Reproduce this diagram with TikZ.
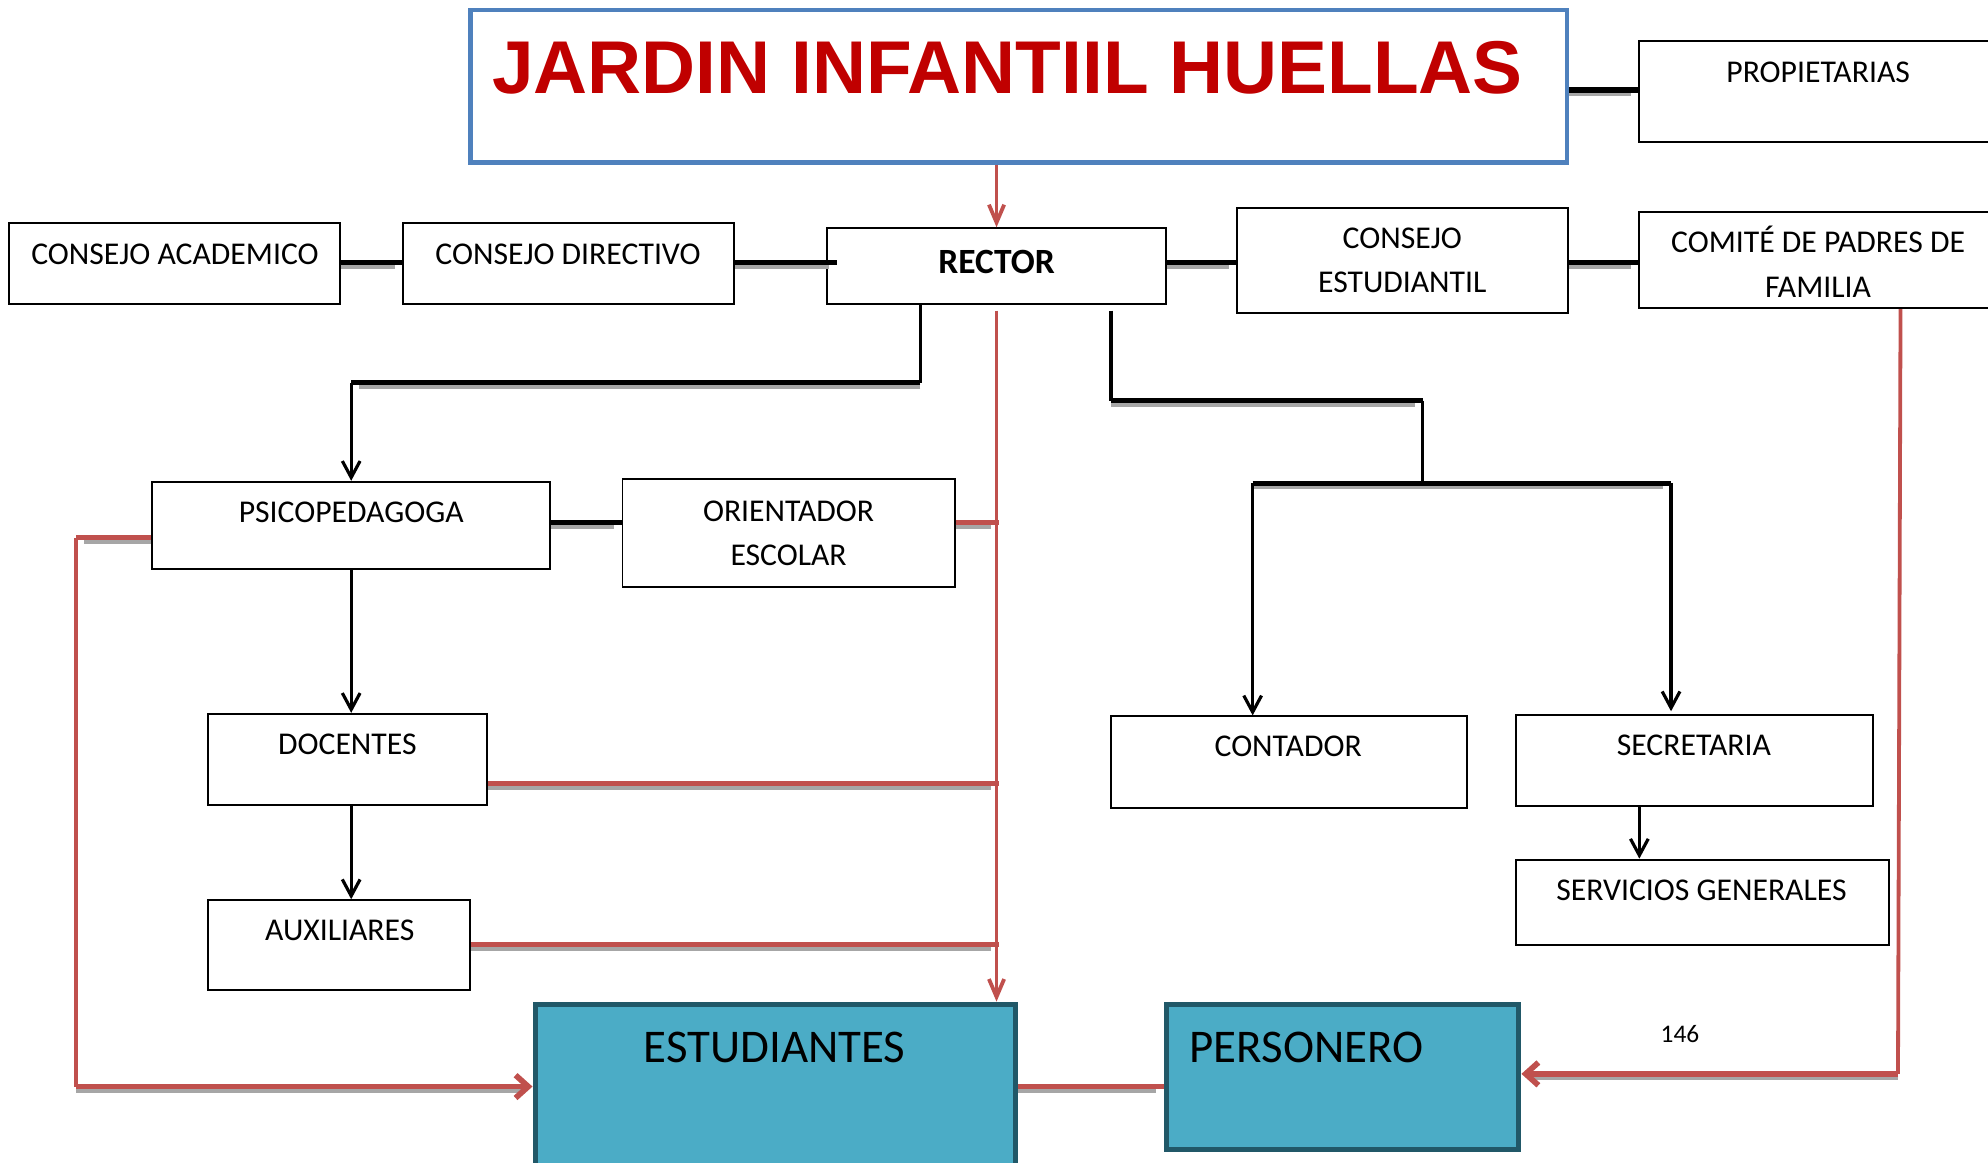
\documentclass[tikz,border=0pt]{standalone}
\usepackage{fontspec}
\setmainfont{Carlito}
\newfontfamily\titlefont{Liberation Sans}
\usetikzlibrary{arrows.meta,fit}
\definecolor{tred}{HTML}{C00000}
\definecolor{tblue}{HTML}{4F81BD}
\definecolor{lred}{HTML}{C0504D}
\definecolor{cfill}{HTML}{4BACC6}
\definecolor{cdark}{HTML}{215868}
\definecolor{shadowgray}{HTML}{A6A6A6}
\begin{document}
\begin{tikzpicture}[x=1pt,y=-1pt,
  box/.style={draw=black, line width=1.5pt, fill=white, inner sep=0pt},
  cbox/.style={draw=cdark, line width=4pt, fill=cfill, inner sep=0pt},
  lbl/.style={anchor=base, inner sep=0pt, font=\fontsize{25}{30}\selectfont},
  blbl/.style={anchor=base, inner sep=0pt, font=\fontsize{28}{32}\selectfont\bfseries},
  clbl/.style={inner sep=0pt, font=\fontsize{37}{42}\selectfont},
  shad/.style={preaction={draw=shadowgray, line width=4pt, arrows=-, shorten >=6pt, transform canvas={yshift=-3pt}}},
  blackc/.style={draw=black, line width=4pt, shad},
  redc/.style={draw=lred, line width=4.5pt, shad},
  redv/.style={draw=lred, line width=3pt},
  arrowl/.style={draw=black, line width=2.5pt, -{Straight Barb[length=13pt,width=14pt]}},
  redarrow/.style={draw=lred, line width=3pt, -{Straight Barb[length=14pt,width=12pt]}},
  redarrowb/.style={draw=lred, line width=4.5pt, shad, -{Straight Barb[length=10pt,width=18pt]}}
]
\useasboundingbox (0,0) rectangle (1568,917);
\clip (0,0) rectangle (1568,917);

% title
\node[draw=tblue, line width=3.5pt, fill=white, inner sep=0pt, fit={(371,8)(1236,128)}] (title) {};
\node[anchor=base west, inner sep=0pt, text=tred, font=\titlefont\fontsize{59}{64}\selectfont\bfseries] (titletext) at (388,74) {JARDIN INFANTIIL HUELLAS};

% top row boxes
\node[box, fit={(1293,32)(1600,112)}] (prop) {};
\node[lbl] (propt) at (1434,65) {PROPIETARIAS};
\node[box, fit={(7,176)(268,240)}] (acad) {};
\node[lbl] (acadt) at (138,209) {CONSEJO ACADEMICO};
\node[box, fit={(318,176)(579,240)}] (dir) {};
\node[lbl] (dirt) at (448,209) {CONSEJO DIRECTIVO};
\node[box, fit={(652,180)(920,240)}] (rector) {};
\node[blbl] (rectort) at (786,216) {RECTOR};
\node[box, fit={(976,164)(1237,247)}] (est) {};
\node[lbl] (estt1) at (1106,196) {CONSEJO};
\node[lbl] (estt2) at (1106,231) {ESTUDIANTIL};
\node[box, fit={(1293,167)(1600,243)}] (com) {};
\node[lbl] (comt1) at (1434,199) {COMITÉ DE PADRES DE};
\node[lbl] (comt2) at (1434,235) {FAMILIA};

% middle boxes
\node[box, fit={(120,380)(434,449)}] (psico) {};
\node[lbl] (psicot) at (277,412) {PSICOPEDAGOGA};
\node[box, fit={(491,378)(753,463)}] (orient) {};
\node[lbl] (orientt1) at (622,411) {ORIENTADOR};
\node[lbl] (orientt2) at (622,446) {ESCOLAR};
\node[box, fit={(164,563)(384,635)}] (doc) {};
\node[lbl] (doct) at (274,595) {DOCENTES};
\node[box, fit={(164,710)(371,781)}] (aux) {};
\node[lbl] (auxt) at (268,742) {AUXILIARES};
\node[box, fit={(876,565)(1157,637)}] (cont) {};
\node[lbl] (contt) at (1016,597) {CONTADOR};
\node[box, fit={(1196,564)(1477,636)}] (secr) {};
\node[lbl] (secrt) at (1336,596) {SECRETARIA};
\node[box, fit={(1196,678)(1490,745)}] (serv) {};
\node[lbl] (servt) at (1342,710) {SERVICIOS GENERALES};

% bottom coloured boxes
\node[cbox, fit={(422,792)(801,940)}] (estu) {};
\node[clbl, anchor=base] (estut) at (611,838) {ESTUDIANTES};
\node[cbox, fit={(920,792)(1198,907)}] (pers) {};
\node[clbl, anchor=base west] (perst) at (938,838) {PERSONERO};
\node[anchor=base, inner sep=0pt, font=\fontsize{20}{24}\selectfont] (pagenum) at (1325,822) {146};

% black horizontal connectors
\draw[blackc] (title.east |- 0,71) -- (prop.west |- 0,71);
\draw[blackc] (acad.east |- 0,207) -- (dir.west |- 0,207);
\draw[blackc] (dir.east |- 0,207) -- (660,207);
\draw[blackc] (rector.east |- 0,207) -- (est.west |- 0,207);
\draw[blackc] (est.east |- 0,207) -- (com.west |- 0,207);
\draw[blackc] (psico.east |- 0,412) -- (orient.west |- 0,412);

% rector to psicopedagoga
\coordinate (rl) at (rector.south -| 726,0);
\coordinate (pl) at (psico.north |- 0,302);
\draw[draw=black, line width=3pt] (rl) -- (726,302);
\draw[blackc] (726,302) -- (pl);
\draw[arrowl] (pl) -- (psico.north);

% rector to contador and secretaria
\coordinate (rr) at (rector.south -| 876,0);
\draw[draw=black, line width=3pt] (876,245) -- (876,316);
\draw[blackc] (876,316) -- (1122,316);
\draw[draw=black, line width=3pt] (1122,316) -- (1122,381);
\coordinate (cl) at (988,381);
\coordinate (sr) at (1318,381);
\draw[blackc] (cl) -- (sr);
\draw[arrowl] (cl) -- (cont.north -| cl);
\draw[arrowl] (sr) -- (1318,561);
\draw[arrowl] (secr.south -| 1293,0) -- (serv.north -| 1293,0);

% vertical black arrows on the left
\draw[arrowl] (psico.south -| 277,0) -- (doc.north -| 277,0);
\draw[arrowl] (doc.south -| 277,0) -- (aux.north -| 277,0);

% red connectors
\draw[redarrow] (rector.north |- title.south) -- (rector.north);
\draw[redarrow] (rector.south |- 0,245) -- (rector.south |- estu.north);
\draw[redc] (orient.east |- 0,412) -- (788,412);
\draw[redc] (doc.east |- 0,618) -- (788,618);
\draw[redc] (aux.east |- 0,745) -- (788,745);
\draw[redc] (estu.east |- 0,857) -- (pers.west |- 0,857);
\coordinate (ll) at (60,424);
\draw[redc] (psico.west |- ll) -- (ll);
\draw[redv] (60,424) -- (60,857);
\draw[redarrowb] (60,857) -- (estu.west |- 0,857);
\draw[redv] (com.south -| 1499,0) -- (1497,847);
\draw[redarrowb] (1497,847) -- (pers.east |- 0,847);
\end{tikzpicture}
\end{document}
